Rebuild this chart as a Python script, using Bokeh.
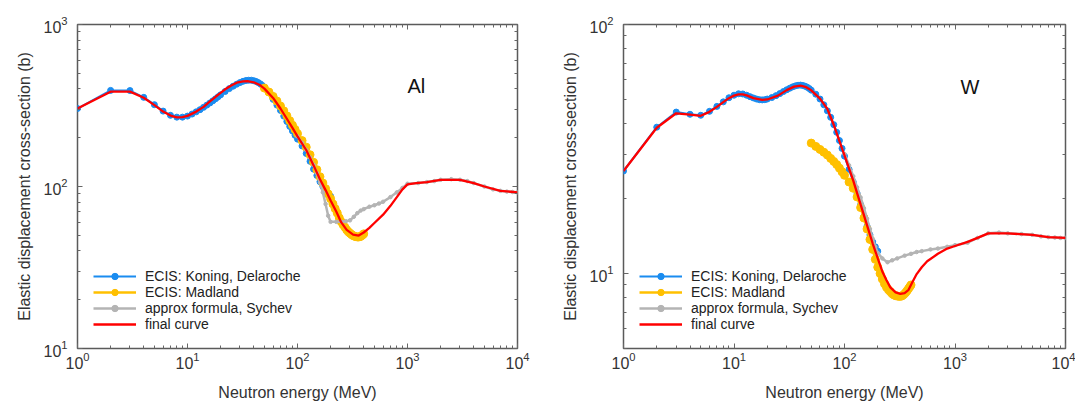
from bokeh.plotting import figure
from bokeh.layouts import row
from bokeh.models import LogAxis, FixedTicker, LogTickFormatter, Label
from bokeh.embed import file_html
from bokeh.resources import INLINE

FONT = "Liberation Sans"

# ---------------- Data: Al ----------------
al_red_e = [1, 2, 3, 4, 5, 6, 7, 8, 9, 10, 12, 14, 16, 18, 20, 22, 25, 28, 32, 35, 40, 45, 50, 60, 70, 80, 90, 100,
            120, 140, 160, 180, 200, 225, 250, 280, 320, 360, 400, 450, 500, 600, 700, 800, 900, 1000, 1200, 1500,
            2000, 3000, 4000, 5000, 7000, 10000]
al_red_s = [303, 385, 385, 353, 318, 290, 274, 267, 268, 273, 290, 310, 335, 358, 378, 398, 420, 437, 446, 447, 440,
            425, 402, 352, 303, 262, 230, 204, 168, 135, 111, 95, 82, 70, 60, 54, 50.5, 49.8, 52, 55.5, 59.5, 67, 76,
            86, 96, 103, 105, 106.5, 110, 110, 105, 100, 94, 92]

al_blue_e = [1, 2, 3, 4, 5, 6, 7, 8, 9, 10, 11, 12, 13, 14, 15, 16, 17, 18, 19, 20, 22, 24, 26, 28, 30, 32, 34, 36,
             38, 40, 42, 44, 46, 48, 50, 55, 60, 65, 70, 75, 80, 85, 90, 95, 100, 110, 120, 130, 140, 150, 160, 170,
             180, 190, 200]
al_blue_s = [303, 392, 391, 355, 320, 292, 275, 268, 268, 272, 280, 289, 298, 308, 318, 328, 338, 348, 358, 368, 386,
             402, 416, 428, 438, 446, 451, 453, 453, 450, 445, 438, 430, 420, 410, 382, 345, 318, 295, 272, 252, 235,
             220, 207, 196, 178, 160, 143, 128, 117, 107, 100, 95, 91, 87]

al_or_e = [50, 55, 60, 65, 70, 75, 80, 85, 90, 95, 100, 110, 120, 130, 140, 150, 160, 170, 180, 190, 200, 210, 220,
           230, 240, 250, 260, 270, 280, 290, 300, 310, 320, 330, 340, 350, 360, 370, 380, 390, 400]
al_or_s = [405, 383, 360, 337, 314, 293, 273, 255, 239, 225, 212, 192, 175, 157, 141, 127, 115, 105, 97, 90, 84, 78,
           73, 68.5, 64, 60.5, 58, 56, 54, 52.5, 51.5, 50.5, 49.8, 49.3, 49, 48.8, 48.8, 49, 49.5, 50.2, 51]

al_gr_e = [100, 110, 120, 130, 140, 150, 160, 170, 180, 190, 200, 225, 250, 275, 300, 325, 350, 375, 400, 450, 500,
           550, 600, 700, 800, 900, 1000, 1250, 1500, 1750, 2000, 2500, 3000, 3500, 4000, 5000, 6000, 7000, 8000,
           9000, 10000]
al_gr_s = [204, 186, 168, 151, 136, 121, 106, 92, 78, 66, 60.5, 60.5, 60.5, 61, 61.8, 65, 68.5, 71, 72.5, 75, 76.6,
           78.5, 80.5, 86, 92, 98, 104, 105, 106.5, 108, 110, 111, 110, 108, 105, 100, 96, 94, 93, 92.5, 92]

# ---------------- Data: W ----------------
w_red_e = [1, 2, 3, 4, 5, 6, 7, 8, 9, 10, 11, 12, 13, 15, 18, 20, 25, 30, 35, 40, 45, 50, 60, 70, 80, 90, 100, 110,
           120, 140, 160, 180, 200, 220, 240, 260, 290, 320, 350, 380, 410, 450, 500, 560, 700, 850, 1000, 1300,
           1600, 2000, 2500, 3000, 5000, 7000, 10000]
w_red_s = [25.8, 38.5, 44.0, 43.5, 43.0, 44.6, 46.7, 48.8, 50.6, 51.8, 52.4, 52.4, 51.9, 50.6, 49.8, 50.0, 51.8,
           54.5, 56.3, 56.8, 56.0, 54.4, 50.4, 45.8, 39.5, 34.0, 29.8, 26.4, 23.6, 18.9, 15.6, 13.2, 11.5, 10.2, 9.4,
           8.8, 8.4, 8.28, 8.35, 8.6, 9.2, 9.95, 10.6, 11.2, 12.0, 12.6, 12.9, 13.4, 13.9, 14.5, 14.5, 14.5, 14.3,
           14.0, 13.9]

w_blue_e = al_blue_e
w_blue_s = [25.8, 38.7, 44.5, 43.6, 43.2, 44.8, 46.9, 48.9, 50.8, 52.0, 52.7, 52.6, 52.0, 51.3, 50.7, 50.2, 49.9,
            49.8, 49.9, 50.2, 50.9, 51.8, 52.8, 53.8, 54.7, 55.5, 56.2, 56.7, 57.0, 57.1, 56.9, 56.5, 56.0, 55.3,
            54.5, 52.5, 50.2, 47.6, 45.0, 42.4, 39.6, 36.9, 34.2, 31.8, 29.6, 26.2, 23.3, 21.0, 18.9, 17.0, 15.5,
            14.3, 13.4, 12.8, 12.3]

w_or_e = al_or_e
w_or_s = [33.4, 32.4, 31.5, 30.7, 29.9, 29.0, 28.2, 27.4, 26.5, 25.6, 24.8, 23.3, 22.0, 20.3, 18.4, 16.7, 15.1,
          13.7, 12.5, 11.4, 10.6, 10.0, 9.5, 9.1, 8.8, 8.6, 8.45, 8.3, 8.2, 8.15, 8.12, 8.1, 8.1, 8.12, 8.2, 8.3,
          8.42, 8.55, 8.7, 8.85, 9.0]

w_gr_e = [100, 110, 120, 130, 140, 150, 160, 170, 180, 190, 200, 220, 245, 270, 300, 350, 400, 450, 500, 600, 700,
          850, 1000, 1300, 1600, 2000, 2500, 3000, 4000, 5000, 6000, 7000, 8000, 9000, 10000]
w_gr_s = [30.2, 27.2, 24.6, 22.2, 20.2, 18.3, 16.6, 15.1, 13.8, 12.8, 12.1, 11.5, 11.1, 11.3, 11.5, 11.8, 12.0, 12.2,
          12.3, 12.5, 12.6, 12.8, 13.0, 13.3, 13.9, 14.5, 14.6, 14.5, 14.4, 14.3, 14.1, 14.0, 13.95, 13.9, 13.9]

legend_labels = ["ECIS: Koning, Delaroche", "ECIS: Madland", "approx formula, Sychev", "final curve"]

BLUE = "#1a8cf0"
ORANGE = "#ffc000"
GRAY = "#b4b4b4"
RED = "#ff0000"
AX = "#5a5a5a"
TICK = "#666666"
TXT = "#333333"


def decade_minors(lo_exp, hi_exp):
    return [m * 10 ** e for e in range(lo_exp, hi_exp) for m in range(2, 10)]


def style_axis(ax, show_labels=True):
    ax.axis_line_color = None
    ax.major_tick_in = 5
    ax.major_tick_out = 0
    ax.minor_tick_in = 3
    ax.minor_tick_out = 0
    ax.major_tick_line_color = TICK
    ax.minor_tick_line_color = TICK
    ax.major_tick_line_width = 1
    ax.minor_tick_line_width = 1
    if show_labels:
        ax.major_label_text_font = FONT
        ax.major_label_text_font_size = "16px"
        ax.major_label_text_color = TXT
        ax.axis_label_text_font = FONT
        ax.axis_label_text_font_size = "16px"
        ax.axis_label_text_font_style = "normal"
        ax.axis_label_text_color = TXT
    else:
        ax.major_label_text_font_size = "1px"
        ax.major_label_text_alpha = 0
        ax.major_label_standoff = 0


def make(width, bl, br, yr, yticks, yminors, data, elem, elem_xy):
    p = figure(width=width, height=404, x_axis_type="log", y_axis_type="log",
               x_range=(1, 1e4), y_range=yr, output_backend="svg", toolbar_location=None,
               min_border_left=bl, min_border_right=br, min_border_top=24, min_border_bottom=56)
    p.xgrid.visible = False
    p.ygrid.visible = False
    p.outline_line_color = AX
    p.outline_line_width = 1.5
    p.background_fill_color = "white"
    p.border_fill_color = "white"

    xt = FixedTicker(ticks=[1, 10, 100, 1000, 10000], minor_ticks=decade_minors(0, 4))
    yt = FixedTicker(ticks=yticks, minor_ticks=yminors)
    p.xaxis.ticker = xt
    p.yaxis.ticker = yt
    p.xaxis.formatter = LogTickFormatter()
    p.yaxis.formatter = LogTickFormatter()
    p.xaxis.axis_label = "Neutron energy (MeV)"
    p.yaxis.axis_label = "Elastic displacement cross-section (b)"
    for ax in p.xaxis + p.yaxis:
        style_axis(ax)
    p.xaxis.major_label_standoff = 3
    p.yaxis.major_label_standoff = 10
    p.yaxis.axis_label_standoff = 7
    p.xaxis.axis_label_standoff = 12

    top = LogAxis(ticker=xt)
    right = LogAxis(ticker=yt)
    style_axis(top, False)
    style_axis(right, False)
    p.add_layout(top, "above")
    p.add_layout(right, "right")

    be, bs, oe, os_, ge, gs, re, rs = data
    p.line(be, bs, color=BLUE, line_width=2, legend_label=legend_labels[0])
    p.scatter(be, bs, color=BLUE, size=6, legend_label=legend_labels[0])
    p.line(oe, os_, color=ORANGE, line_width=2.5, legend_label=legend_labels[1])
    p.scatter(oe, os_, color=ORANGE, size=8, legend_label=legend_labels[1])
    p.line(ge, gs, color=GRAY, line_width=2.5, legend_label=legend_labels[2])
    p.scatter(ge, gs, color=GRAY, size=3.5, legend_label=legend_labels[2])
    p.line(re, rs, color=RED, line_width=2.3, legend_label=legend_labels[3])

    lg = p.legend[0]
    lg.location = (16, 16)
    lg.padding = 0
    lg.margin = 0
    lg.spacing = 0
    lg.border_line_color = None
    lg.background_fill_alpha = 0
    lg.glyph_width = 43
    lg.glyph_height = 16
    lg.label_height = 16
    lg.label_standoff = 9
    lg.label_text_font = FONT
    lg.label_text_font_size = "14px"
    lg.label_text_color = "#222222"

    p.add_layout(Label(x=elem_xy[0], y=elem_xy[1], text=elem, text_font=FONT, text_font_size="20px",
                       text_color="#111111", text_baseline="alphabetic"))
    return p


p1 = make(540, 77, 23, (10, 1000), [10, 100, 1000], decade_minors(1, 3),
          (al_blue_e, al_blue_s, al_or_e, al_or_s, al_gr_e, al_gr_s, al_red_e, al_red_s), "Al", (1000, 415))
p2 = make(535, 83, 10, (5, 100), [10, 100], [5, 6, 7, 8, 9] + decade_minors(1, 2),
          (w_blue_e, w_blue_s, w_or_e, w_or_s, w_gr_e, w_gr_s, w_red_e, w_red_s), "W", (1120, 56.0))

layout = row(p1, p2)
open("out.html", "w").write(file_html(layout, INLINE))
